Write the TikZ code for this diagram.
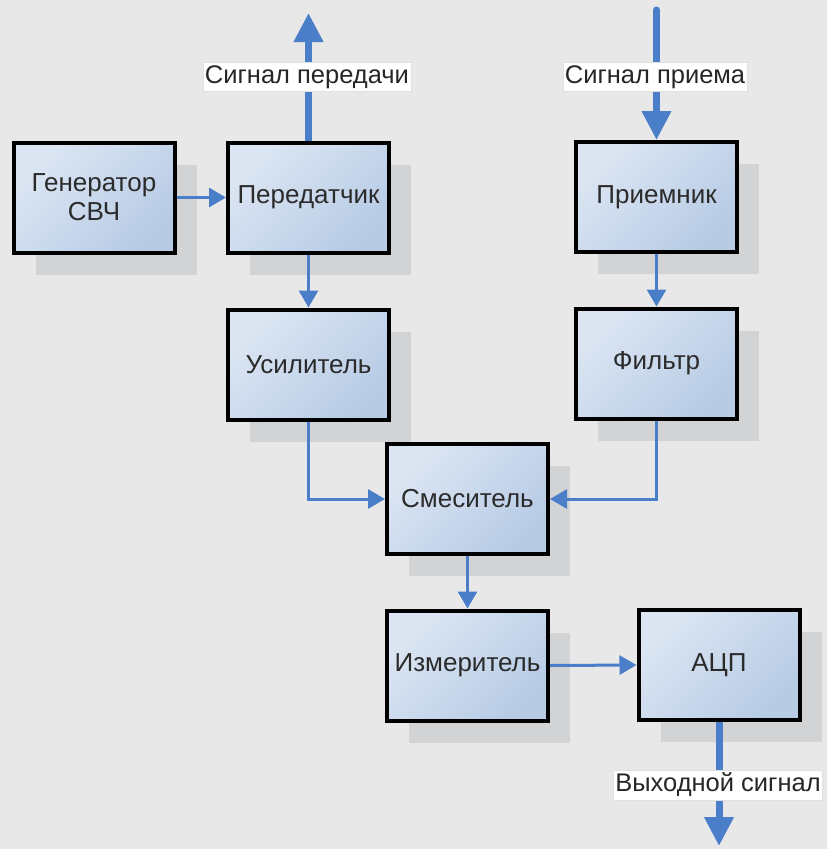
\documentclass[tikz,border=0pt]{standalone}
\usepackage{fontspec}
\newfontfamily\lsans{Liberation Sans}
\usetikzlibrary{arrows.meta,shadows}
\definecolor{bgc}{HTML}{E8E8E8}
\definecolor{shadowc}{HTML}{D2D3D5}
\definecolor{boxtop}{HTML}{DCE6F3}
\definecolor{boxbot}{HTML}{B7CBE5}
\definecolor{arrc}{HTML}{4A7EC9}
\definecolor{txt}{HTML}{2B2B2B}
\tikzset{
  blockbox/.style={draw=black, line width=4pt, minimum width=161pt, minimum height=110pt,
    top color=boxtop, bottom color=boxbot, shading angle=45,
    general shadow={fill=shadowc, shadow xshift=22pt, shadow yshift=-22pt},
    font=\lsans\fontsize{26}{29}\selectfont, text=txt, align=center, inner sep=2pt},
  siglabel/.style={fill=white, draw=white!88!black, line width=0.5pt, inner xsep=2pt, inner ysep=3pt,
    font=\lsans\fontsize{25.5}{28}\selectfont, text=black!85},
  thinarrow/.style={draw=arrc, line width=3pt, -{Triangle[length=17pt,width=19pt]}},
  thickarrow/.style={draw=arrc, line width=7pt, -{Triangle[length=29pt,width=28pt]}}
}
\begin{document}
\begin{tikzpicture}[x=1pt,y=-1pt]
\fill[bgc] (0,0) rectangle (827,849);
\useasboundingbox (0,0) rectangle (827,849);

\node[blockbox] (gen)  at (94,197.5)   {Генератор\\СВЧ};
\node[blockbox] (tx)   at (308.5,197.5) {Передатчик};
\node[blockbox] (rx)   at (656.5,197)  {Приемник};
\node[blockbox] (amp)  at (308.5,364.5) {Усилитель};
\node[blockbox] (filt) at (656.5,363.5) {Фильтр};
\node[blockbox] (mix)  at (467.5,499)  {Смеситель};
\node[blockbox] (meas) at (467.5,665.5) {Измеритель};
\node[blockbox] (adc)  at (719,665)    {АЦП};

\coordinate (txout) at (308.5,13);
\coordinate (rxin) at (656.5,10);
\coordinate (adcout) at (719,846);

\draw[thinarrow] (gen.east) -- (tx.west);
\draw[thinarrow] (tx.south) -- (amp.north);
\draw[thinarrow] (rx.south) -- (filt.north);
\draw[thinarrow] (amp.south) |- (mix.west);
\draw[thinarrow] (filt.south) |- (mix.east);
\draw[thinarrow] (mix.south) -- (meas.north);
\draw[thinarrow] (meas.east) -- (adc.west);

\draw[thickarrow] (tx.north) -- (txout);
\draw[thickarrow, line cap=round] (rxin) -- (rx.north);
\draw[thickarrow] (adc.south) -- (adcout);

\node[siglabel] (ltx) at (307,77) {Сигнал передачи};
\node[siglabel] (lrx) at (655,77) {Сигнал приема};
\node[siglabel] (ladc) at (718,785) {Выходной сигнал};
\end{tikzpicture}
\end{document}
